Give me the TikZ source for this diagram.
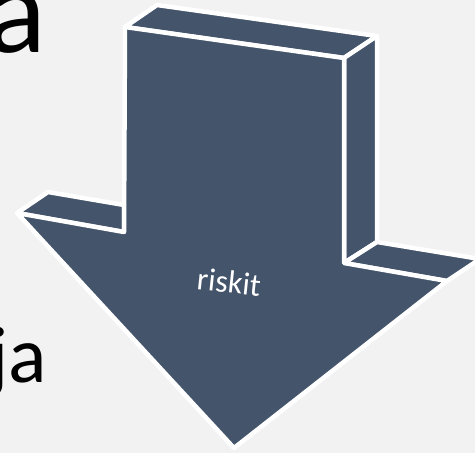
\documentclass[tikz,border=0pt]{standalone}
\usepackage{fontspec}
\setmainfont{Carlito}
\definecolor{bg}{HTML}{F2F2F2}
\definecolor{slate}{HTML}{44546A}
\begin{document}
\begin{tikzpicture}[x=1pt,y=-1pt,
  face/.style={fill=slate,draw=white,line width=4.5pt,line join=round},
  bigtext/.style={inner sep=0pt,text=black}]
\fill[bg] (0,0) rectangle (475,453);
\useasboundingbox (0,0) rectangle (475,453);
% text behind
\node[bigtext,anchor=base east,font=\fontsize{125}{125}\selectfont] (ta) at (47,52) {a};
\node[bigtext,anchor=base east,font=\fontsize{80}{80}\selectfont] (tja) at (47,382) {ja};
% coordinates
\coordinate (A) at (125,27);
\coordinate (B) at (344,58);
\coordinate (C) at (344,263);
\coordinate (D) at (447,281);
\coordinate (E) at (234,448);
\coordinate (F) at (17,213);
\coordinate (G) at (124,232);
\coordinate (Ab) at (157,5);
\coordinate (Bb) at (377,36);
\coordinate (Cb) at (377,242);
\coordinate (Db) at (480,259);
\coordinate (Fb) at (48,192);
\coordinate (Hb) at (124,205);
% faces
\draw[face] (A) -- (Ab) -- (Bb) -- (B) -- cycle;
\draw[face] (B) -- (Bb) -- (Cb) -- (C) -- cycle;
\draw[face] (C) -- (Cb) -- (Db) -- (D) -- cycle;
\draw[face] (F) -- (Fb) -- (Hb) -- (G) -- cycle;
\draw[face] (A) -- (B) -- (C) -- (D) -- (E) -- (F) -- (G) -- cycle;
\node[text=white,rotate=-6,font=\fontsize{32}{32}\selectfont,inner sep=0pt] (lbl) at (229,282) {riskit};
\end{tikzpicture}
\end{document}
